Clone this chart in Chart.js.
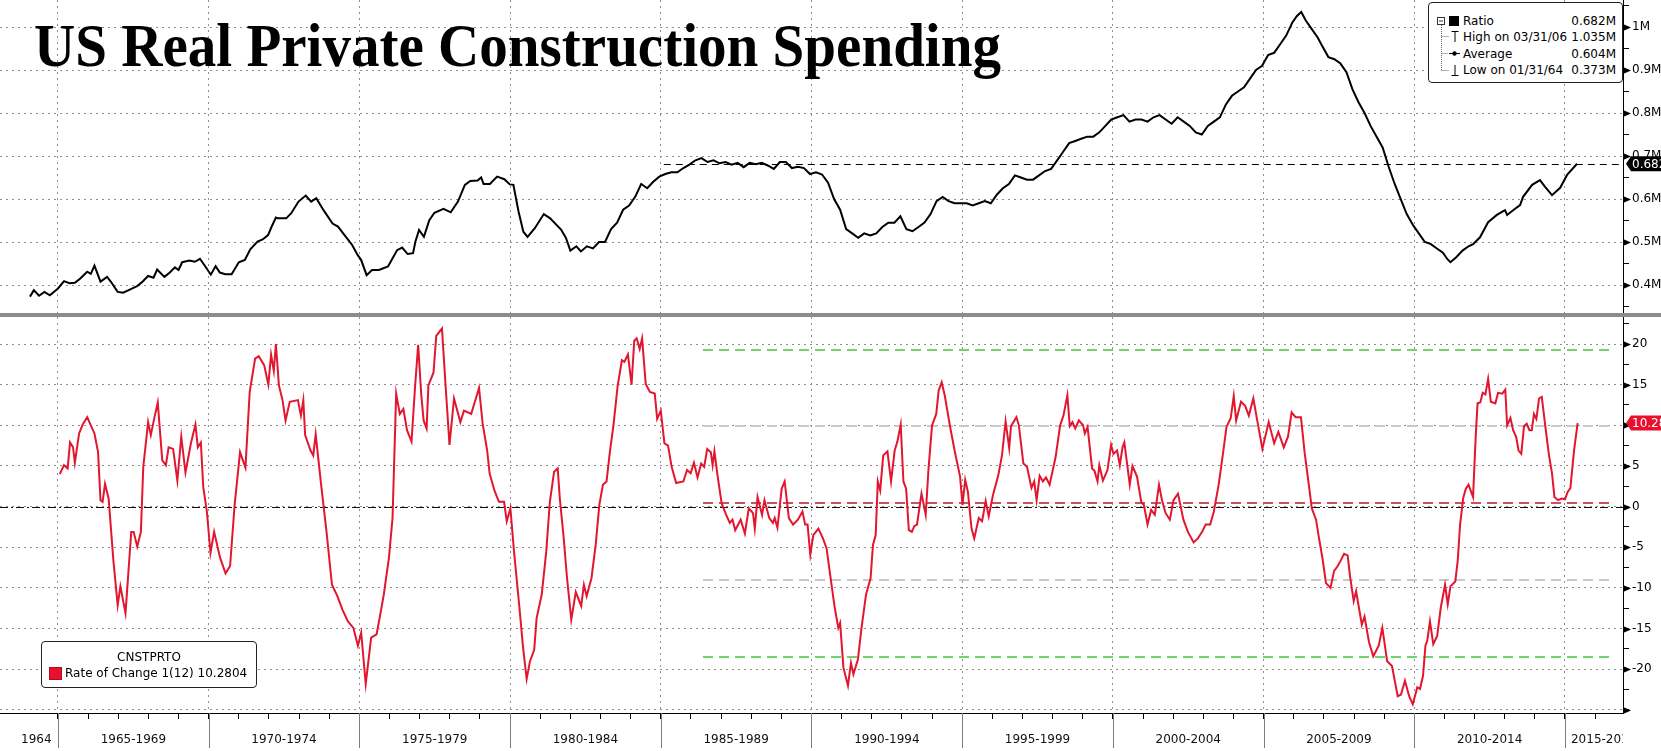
<!DOCTYPE html>
<html>
<head>
<meta charset="utf-8">
<script src="https://cdn.jsdelivr.net/npm/chart.js@4.4.1/dist/chart.umd.min.js"></script>
<style>
  html, body { margin: 0; padding: 0; background: #fff; }
  #wrap { position: relative; width: 1661px; height: 751px; overflow: hidden; background: #fff; }
  #c1 { position: absolute; left: 0; top: 0; }
  #c2 { position: absolute; left: 0; top: 317px; }
  #sep { position: absolute; left: 0; top: 313px; width: 1661px; height: 4px; background: #8c8c8c; }
  #title { position: absolute; left: 34px; top: 15px; font-family: "Liberation Serif", serif; font-weight: bold;
           font-size: 61px; line-height: 61px; white-space: nowrap; color: #000; transform-origin: 0 0; }
  .leg { position: absolute; background: #fff; border: 1px solid #222; border-radius: 4px;
         font-family: "DejaVu Sans", sans-serif; font-size: 12px; color: #000; }
  .leg .t { position: absolute; white-space: nowrap; line-height: 14px; }
  .leg .v { position: absolute; white-space: nowrap; line-height: 14px; right: 6px; text-align: right; }
</style>
</head>
<body>
<div id="wrap">
  <canvas id="c1" width="1661" height="313"></canvas>
  <div id="sep"></div>
  <canvas id="c2" width="1661" height="434"></canvas>
  <div id="title">US Real Private Construction Spending</div>

  <div class="leg" id="legTop" style="left:1428px; top:2px; width:193px; height:79px;">
    <svg width="193" height="79" style="position:absolute;left:0;top:0">
      <rect x="8.5" y="14.5" width="7" height="7" fill="#fff" stroke="#333"/>
      <line x1="10" y1="18" x2="14" y2="18" stroke="#333"/>
      <rect x="20" y="13" width="10" height="10" fill="#000"/>
      <path d="M12.5 22 V67.5" stroke="#666" stroke-dasharray="1,1" fill="none"/>
      <path d="M12.5 33.5 H20 M12.5 50.5 H19 M12.5 67.5 H20" stroke="#666" stroke-dasharray="1,1" fill="none"/>
      <path d="M22.5 28.5 H29.5 M26 28.5 V39" stroke="#000" fill="none"/>
      <path d="M20 50.5 H31" stroke="#000" fill="none"/>
      <circle cx="25.5" cy="50.5" r="2.2" fill="#000"/>
      <path d="M26 62 V72.5 M22.5 72.5 H29.5" stroke="#000" fill="none"/>
    </svg>
    <div class="t" style="left:34px; top:11px;">Ratio</div>
    <div class="v" style="top:11px;">0.682M</div>
    <div class="t" style="left:34px; top:27px;">High on 03/31/06</div>
    <div class="v" style="top:27px;">1.035M</div>
    <div class="t" style="left:34px; top:44px;">Average</div>
    <div class="v" style="top:44px;">0.604M</div>
    <div class="t" style="left:34px; top:60px;">Low on 01/31/64</div>
    <div class="v" style="top:60px;">0.373M</div>
  </div>

  <div class="leg" id="legBot" style="left:41px; top:641px; width:214px; height:45px;">
    <div class="t" style="left:0; width:214px; text-align:center; top:8px;">CNSTPRTO</div>
    <div style="position:absolute; left:7px; top:25px; width:11px; height:11px; background:#e8102c; border:1px solid #b00a20;"></div>
    <div class="t" style="left:23px; top:24px;">Rate of Change 1(12) 10.2804</div>
  </div>
</div>

<script>
// ---------------- DATA ----------------
// US real private construction spending (millions, shown as "M"), by decimal year
const spendDates = [
  1964.07,1964.2,1964.37,1964.55,1964.73,1965.0,1965.2,1965.38,1965.56,1965.74,1965.97,1966.09,1966.21,1966.41,1966.63,1966.75,1966.98,
  1967.16,1967.4,1967.64,1967.81,1967.99,1968.17,1968.29,1968.53,1968.71,1968.88,1969.0,1969.12,1969.36,1969.54,1969.71,1969.89,
  1970.07,1970.23,1970.37,1970.55,1970.76,1971.0,1971.2,1971.38,1971.62,1971.79,1971.97,1972.09,1972.23,1972.3,1972.57,1972.74,1972.98,
  1973.22,1973.4,1973.57,1973.81,1974.11,1974.29,1974.52,1974.76,1974.94,1975.06,1975.24,1975.42,1975.65,1975.95,1976.25,1976.42,1976.6,
  1976.78,1976.86,1976.98,1977.14,1977.32,1977.49,1977.79,1978.03,1978.27,1978.5,1978.68,1978.92,1979.04,1979.12,1979.33,1979.57,1979.81,
  1979.99,1980.11,1980.28,1980.44,1980.58,1980.82,1981.12,1981.33,1981.69,1981.85,1982.0,1982.2,1982.35,1982.55,1982.75,1982.95,
  1983.15,1983.35,1983.55,1983.75,1983.95,1984.15,1984.35,1984.55,1984.75,1984.95,1985.15,1985.35,1985.55,1985.75,1985.95,
  1986.15,1986.35,1986.55,1986.75,1986.95,1987.15,1987.35,1987.55,1987.75,1987.95,1988.15,1988.35,1988.55,1988.75,1988.95,
  1989.15,1989.35,1989.55,1989.75,1989.95,1990.15,1990.35,1990.55,1990.75,1990.95,1991.15,1991.35,1991.55,1991.75,1991.95,
  1992.15,1992.35,1992.55,1992.75,1992.95,1993.15,1993.35,1993.55,1993.75,1993.95,1994.15,1994.35,1994.55,1994.75,1994.95,
  1995.15,1995.35,1995.55,1995.75,1995.95,1996.15,1996.35,1996.55,1996.75,1996.95,1997.15,1997.35,1997.55,1997.75,1997.95,
  1998.15,1998.35,1998.55,1998.75,1998.95,1999.15,1999.35,1999.55,1999.75,1999.95,2000.15,2000.35,2000.55,2000.75,2000.95,
  2001.15,2001.35,2001.55,2001.75,2001.95,2002.15,2002.35,2002.55,2002.75,2002.95,2003.15,2003.35,2003.55,2003.75,2003.95,
  2004.15,2004.35,2004.55,2004.75,2004.95,2005.15,2005.35,2005.55,2005.75,2005.95,2006.1,2006.25,2006.4,2006.6,2006.8,2006.95,
  2007.15,2007.35,2007.55,2007.75,2007.95,2008.15,2008.35,2008.55,2008.75,2008.95,2009.15,2009.35,2009.55,2009.75,2009.95,
  2010.15,2010.35,2010.55,2010.75,2010.95,2011.1,2011.2,2011.4,2011.6,2011.8,2011.95,2012.18,2012.45,2012.74,2013.01,2013.08,
  2013.3,2013.51,2013.61,2013.91,2014.17,2014.34,2014.57,2014.84,2015.07,2015.4
];
const spendValues = [
  0.373,0.388,0.375,0.384,0.376,0.392,0.409,0.404,0.405,0.415,0.431,0.426,0.445,0.408,0.419,0.408,0.384,
  0.382,0.390,0.398,0.408,0.421,0.417,0.436,0.419,0.429,0.441,0.435,0.453,0.457,0.454,0.461,0.443,
  0.424,0.444,0.429,0.425,0.425,0.453,0.458,0.483,0.501,0.506,0.516,0.536,0.557,0.555,0.555,0.567,0.594,
  0.608,0.594,0.602,0.574,0.543,0.536,0.515,0.493,0.470,0.458,0.423,0.435,0.435,0.443,0.481,0.487,0.472,
  0.474,0.501,0.528,0.512,0.551,0.568,0.577,0.569,0.594,0.633,0.642,0.643,0.650,0.635,0.635,0.652,0.646,
  0.634,0.633,0.571,0.524,0.512,0.532,0.565,0.555,0.529,0.510,0.480,0.490,0.478,0.490,0.485,0.500,
  0.500,0.530,0.545,0.575,0.585,0.605,0.635,0.625,0.640,0.652,0.658,0.662,0.662,0.672,0.680,
  0.690,0.695,0.686,0.690,0.683,0.686,0.680,0.684,0.674,0.684,0.681,0.684,0.678,0.670,0.686,
  0.686,0.672,0.675,0.672,0.658,0.662,0.657,0.638,0.600,0.575,0.530,0.520,0.510,0.520,0.515,
  0.520,0.535,0.545,0.545,0.560,0.530,0.525,0.535,0.545,0.565,0.595,0.605,0.595,0.590,0.590,
  0.590,0.585,0.590,0.595,0.590,0.610,0.625,0.635,0.655,0.650,0.645,0.645,0.655,0.665,0.670,
  0.690,0.710,0.730,0.735,0.740,0.745,0.745,0.755,0.770,0.785,0.790,0.795,0.780,0.785,0.785,
  0.780,0.790,0.795,0.785,0.775,0.790,0.780,0.770,0.755,0.750,0.770,0.780,0.790,0.820,0.840,
  0.850,0.860,0.880,0.900,0.910,0.935,0.940,0.960,0.980,1.010,1.025,1.035,1.015,0.995,0.975,0.955,
  0.930,0.925,0.915,0.895,0.855,0.825,0.800,0.770,0.745,0.720,0.675,0.635,0.600,0.565,0.540,
  0.520,0.500,0.495,0.485,0.475,0.460,0.453,0.465,0.480,0.490,0.495,0.511,0.546,0.563,0.574,0.563,
  0.575,0.586,0.605,0.633,0.644,0.628,0.609,0.626,0.656,0.682
];

// Rate of change, 12 months (%)
const rocDates = [
  1965.06,1965.2,1965.32,1965.4,1965.5,1965.56,1965.7,1965.82,1965.97,1966.09,1966.21,1966.33,1966.41,1966.48,1966.56,1966.68,1966.84,1966.98,
  1967.07,1967.24,1967.43,1967.51,1967.63,1967.75,1967.83,1967.99,1968.08,1968.19,1968.31,1968.46,1968.58,1968.67,1968.82,1968.96,
  1969.09,1969.23,1969.41,1969.56,1969.64,1969.74,1969.82,1969.94,1970.06,1970.18,1970.38,1970.56,1970.71,1970.86,1971.04,1971.22,
  1971.36,1971.54,1971.66,1971.84,1971.98,1972.07,1972.16,1972.23,1972.33,1972.45,1972.55,1972.69,1972.96,1973.06,1973.14,1973.2,
  1973.38,1973.47,1973.55,1973.73,1973.91,1974.09,1974.27,1974.44,1974.62,1974.8,1974.95,1975.06,1975.21,1975.39,1975.57,1975.69,
  1975.81,1975.98,1976.1,1976.22,1976.34,1976.46,1976.58,1976.73,1976.85,1976.95,1977.05,1977.13,1977.23,1977.29,1977.46,1977.55,
  1977.74,1977.86,1977.99,1978.14,1978.35,1978.47,1978.71,1978.97,1979.09,1979.24,1979.32,1979.48,1979.63,1979.8,1979.89,1980.01,
  1980.13,1980.31,1980.43,1980.55,1980.66,1980.8,1980.88,1981.05,1981.2,1981.32,1981.46,1981.58,1981.65,
  1981.77,1981.89,1982.03,1982.18,1982.36,1982.45,1982.54,1982.7,1982.84,1982.96,1983.08,1983.2,1983.31,1983.43,1983.57,1983.71,
  1983.79,1983.91,1984.03,1984.12,1984.2,1984.3,1984.38,1984.5,1984.64,1984.8,1984.88,1985.0,1985.12,1985.24,1985.36,1985.51,
  1985.75,1985.87,1985.99,1986.1,1986.22,1986.34,1986.44,1986.54,1986.66,1986.72,1986.78,1986.88,1987.02,1987.17,1987.29,1987.38,
  1987.47,1987.65,1987.79,1987.92,1988.06,1988.12,1988.21,1988.36,1988.44,1988.6,1988.72,1988.78,1988.87,1989.01,1989.11,1989.25,
  1989.39,1989.55,1989.7,1989.79,1989.87,1989.96,1990.06,1990.23,1990.38,1990.5,1990.62,1990.77,1990.89,1990.95,1991.06,1991.21,
  1991.31,1991.39,1991.54,1991.66,1991.81,1991.96,1992.04,1992.13,1992.2,1992.28,1992.38,1992.52,1992.64,1992.76,1992.85,1992.96,
  1993.05,1993.14,1993.23,1993.33,1993.41,1993.5,1993.65,1993.79,1993.88,1994.0,1994.14,1994.22,1994.32,1994.42,1994.6,1994.77,
  1994.93,1995.01,1995.1,1995.19,1995.31,1995.4,1995.55,1995.66,1995.78,1995.88,1996.02,1996.2,1996.32,1996.44,1996.56,1996.62,
  1996.8,1996.88,1997.03,1997.15,1997.3,1997.39,1997.47,1997.57,1997.68,1997.78,1997.9,1998.1,1998.25,1998.36,1998.49,1998.57,
  1998.66,1998.75,1998.87,1999.01,1999.07,1999.16,1999.31,1999.39,1999.49,
  1999.55,1999.67,1999.82,1999.94,2000.02,2000.14,2000.23,2000.32,2000.38,2000.56,2000.65,2000.8,2000.94,2001.03,2001.15,2001.27,
  2001.39,2001.53,2001.63,2001.75,2001.89,2002.01,2002.16,2002.34,2002.49,2002.68,2002.82,2002.96,2003.08,2003.23,2003.35,2003.51,
  2003.63,2003.77,2003.91,2004.01,2004.09,2004.25,2004.39,2004.51,2004.66,2004.78,2004.96,2005.17,2005.35,2005.49,2005.67,2005.81,
  2005.93,2006.06,2006.24,2006.36,2006.5,2006.6,2006.74,2006.84,2006.96,2007.07,2007.22,2007.34,2007.46,2007.55,2007.67,2007.79,
  2007.87,2007.99,2008.07,2008.26,2008.35,2008.5,2008.64,2008.82,2008.94,2009.1,2009.26,2009.45,2009.56,2009.69,2009.83,2009.95,
  2010.1,2010.19,2010.29,2010.37,2010.43,2010.52,2010.63,2010.76,2010.88,2011.02,2011.11,2011.2,2011.36,2011.44,2011.52,2011.62,
  2011.71,2011.8,2011.95,2012.04,2012.1,2012.19,2012.27,2012.36,2012.45,2012.54,2012.69,2012.78,2012.92,2013.02,2013.08,2013.19,
  2013.28,2013.38,2013.46,2013.55,2013.64,2013.73,2013.82,2013.9,2013.97,2014.05,2014.14,2014.23,2014.35,2014.47,2014.57,2014.65,
  2014.77,2014.89,2015.0,2015.09,2015.18,2015.3,2015.42
];
const rocValues = [
  4.0,5.1,4.7,7.9,7.3,5.4,9.0,10.1,11.0,10.0,9.0,6.7,0.8,0.6,2.8,1.0,-6.7,-12.1,
  -9.8,-13.1,-3.1,-3.1,-4.9,-3.1,4.9,10.4,8.8,10.8,12.8,5.7,5.1,7.3,7.1,3.2,
  8.6,4.2,7.8,10.1,7.3,7.9,2.4,-0.6,-5.7,-3.1,-6.3,-8.2,-7.3,0.2,6.7,4.8,
  14.1,18.2,18.5,17.4,15.0,18.7,16.7,20.0,14.9,13.1,10.6,12.9,13.1,11.2,13.1,8.8,
  6.9,6.3,8.9,2.7,-3.1,-9.6,-11.0,-12.7,-14.1,-14.9,-17.1,-15.5,-21.8,-16.1,-15.7,-13.3,
  -10.8,-6.3,-1.4,13.9,11.4,12.0,9.4,8.0,14.9,19.9,13.9,10.6,9.6,14.9,16.5,21.0,
  21.9,14.9,7.6,13.3,10.4,11.8,11.4,14.6,10.2,6.9,4.1,2.0,0.6,0.6,-1.8,-0.2,
  -5.5,-12.4,-17.3,-21.2,-19.0,-17.6,-13.7,-10.8,-5.5,0.6,4.3,4.7,1.0,
  -3.5,-8.8,-13.9,-10.5,-12.2,-9.6,-11.0,-8.8,-4.7,0.2,2.7,3.1,6.7,10.0,14.9,18.0,
  17.8,18.7,15.0,20.4,20.7,19.4,20.7,15.1,14.1,13.9,10.8,11.8,7.8,7.5,4.9,2.9,
  3.1,4.5,4.1,5.4,3.6,5.3,4.9,7.1,6.7,5.1,6.8,3.9,0.4,-1.0,-2.0,-1.6,
  -2.9,-1.6,-3.3,-0.2,-0.8,-2.7,1.2,-1.0,0.8,-1.4,-2.0,-1.4,-2.6,2.2,3.1,-1.4,
  -2.2,-1.6,-0.6,-2.2,-2.2,-5.9,-3.5,-2.7,-3.9,-5.1,-8.4,-12.4,-14.9,-14.3,-19.8,-22.0,
  -19.2,-20.6,-18.8,-14.9,-10.8,-8.8,-4.7,-3.5,3.1,2.0,6.3,6.8,3.1,6.9,8.0,10.1,
  3.1,2.2,-2.9,-3.1,-2.4,-2.2,1.6,-1.0,4.5,10.0,11.4,14.3,15.3,13.7,9.8,6.5,
  3.7,0.2,3.3,1.8,-2.7,-3.9,-1.4,-1.8,0.7,-1.2,1.4,3.9,6.3,10.5,7.2,9.9,
  11.0,10.0,5.3,4.9,2.3,3.1,0.8,3.8,3.1,3.6,2.7,6.1,10.0,11.2,13.7,9.9,
  10.4,9.6,10.6,10.0,9.0,9.8,4.7,4.4,3.1,
  5.1,3.2,4.5,7.6,6.5,6.9,5.1,7.3,7.9,2.7,5.0,3.7,0.6,0.2,-2.2,-0.4,
  -1.0,2.7,0.8,-0.8,-1.6,0.8,1.6,-1.6,-3.1,-4.4,-3.9,-3.1,-2.2,-2.2,-0.6,2.7,
  5.9,9.8,10.9,13.6,10.6,12.9,12.4,11.2,13.3,10.8,7.1,10.4,7.8,9.2,7.3,8.6,
  11.6,11.0,11.0,6.7,2.7,-0.2,-1.6,-3.9,-6.5,-9.4,-10.0,-7.9,-7.3,-6.7,-5.8,-6.0,
  -8.6,-11.6,-10.4,-14.5,-13.5,-16.7,-18.4,-17.1,-14.9,-19.0,-19.6,-23.3,-23.1,-21.4,-23.3,-24.3,
  -22.2,-22.4,-20.8,-17.1,-16.5,-14.1,-16.9,-15.9,-12.4,-9.6,-12.0,-9.8,-9.2,-6.7,-2.2,1.0,
  2.2,2.7,1.2,8.8,12.7,12.8,14.0,13.8,15.7,12.9,12.7,14.0,13.9,14.4,10.0,10.9,
  9.4,8.6,6.9,6.5,9.9,10.2,9.4,9.4,11.4,10.8,13.3,13.5,9.8,6.3,4.1,1.2,
  0.8,1.0,0.9,1.8,2.3,6.9,10.28
];

// Reference levels drawn in the lower panel (mean and +/- 1, 2 std. dev.)
const bandLevels = [19.3, 9.9, 0.42, -9.05, -18.45];
const bandColors = ['#6fd46f', '#c9c9c9', '#c7535d', '#c9c9c9', '#6fd46f'];
const bandFrom = 1986.4, bandTo = 2016.55;
const lastRatio = 0.682;      // last value, upper panel
const lastRoc = 10.28;        // last value, lower panel
const ratioLineFrom = 1985.1;

// Axis ticks and labels
const topTicks = [0.35,0.40,0.45,0.50,0.55,0.60,0.65,0.70,0.75,0.80,0.85,0.90,0.95,1.00,1.05];
const topTickLabels = {"0.4":"0.4M","0.5":"0.5M","0.6":"0.6M","0.7":"0.7M","0.8":"0.8M","0.9":"0.9M","1.0":"1M"};
const rocTicks = [-25,-22.5,-20,-17.5,-15,-12.5,-10,-7.5,-5,-2.5,0,2.5,5,7.5,10,12.5,15,17.5,20,22.5];
const rocTickLabels = {"-20":"-20","-15":"-15","-10":"-10","-5":"-5","0":"0","5":"5","10":"10","15":"15","20":"20"};
const periodLabels  = ['1964','1965-1969','1970-1974','1975-1979','1980-1984','1985-1989','1990-1994','1995-1999','2000-2004','2005-2009','2010-2014','2015-2019'];
const periodCenters = [1964.28,1967.5,1972.5,1977.5,1982.5,1987.5,1992.5,1997.5,2002.5,2007.5,2012.5,null];
const periodBounds  = [1965,1970,1975,1980,1985,1990,1995,2000,2005,2010,2015];

// ---------------- LAYOUT ----------------
const X_MIN = 1963.076, X_MAX = 2016.925;
const FONT = '"DejaVu Sans", sans-serif';
const yearTicks = [];
for (let yr = 1965; yr <= 2016; yr++) yearTicks.push(yr);

function keyOf(v) { return (Math.round(v * 10) / 10).toFixed(1); }
function rocKey(v) { return String(Math.round(v * 10) / 10); }
function isTopMajor(v) { return Math.abs(v * 10 - Math.round(v * 10)) < 1e-6; }
function isRocMajor(v) { return Math.abs(v / 5 - Math.round(v / 5)) < 1e-6; }
function noPadY(s, w) { s.width = w; s.paddingTop = 0; s.paddingBottom = 0; }
function noPadX(s, h) { s.height = h; s.paddingLeft = 0; s.paddingRight = 0; }

function arrow(ctx, x, y) {
  ctx.beginPath();
  ctx.moveTo(x, y - 3.5);
  ctx.lineTo(x + 8, y);
  ctx.lineTo(x, y + 3.5);
  ctx.closePath();
  ctx.fill();
}
function valueBox(ctx, ax, py, text, bg) {
  const h = 15, tip = ax + 3, bx = ax + 8;
  ctx.save();
  ctx.fillStyle = bg;
  ctx.beginPath();
  ctx.moveTo(tip, py);
  ctx.lineTo(bx, py - h / 2);
  ctx.lineTo(ax + 80, py - h / 2);
  ctx.lineTo(ax + 80, py + h / 2);
  ctx.lineTo(bx, py + h / 2);
  ctx.closePath();
  ctx.fill();
  ctx.fillStyle = '#fff';
  ctx.font = '12px ' + FONT;
  ctx.textAlign = 'left';
  ctx.textBaseline = 'middle';
  ctx.fillText(text, bx + 1, py + 1);
  ctx.restore();
}

const topDecor = {
  id: 'topDecor',
  beforeDatasetsDraw(chart) {
    const { ctx, chartArea: a, scales: { x, y } } = chart;
    ctx.save();
    ctx.strokeStyle = '#000';
    ctx.lineWidth = 1;
    ctx.setLineDash([7, 5]);
    const py = Math.round(y.getPixelForValue(lastRatio)) + 0.5;
    ctx.beginPath();
    ctx.moveTo(x.getPixelForValue(ratioLineFrom), py);
    ctx.lineTo(a.right, py);
    ctx.stroke();
    ctx.restore();
  },
  afterDraw(chart) {
    const { ctx, chartArea: a, scales: { y } } = chart;
    ctx.save();
    ctx.fillStyle = '#000';
    y.ticks.forEach(t => { if (isTopMajor(t.value)) arrow(ctx, a.right, Math.round(y.getPixelForValue(t.value)) + 0.5); });
    ctx.restore();
    valueBox(ctx, a.right, y.getPixelForValue(lastRatio), lastRatio.toFixed(3), '#000');
  }
};

const botDecor = {
  id: 'botDecor',
  beforeDatasetsDraw(chart) {
    const { ctx, chartArea: a, scales: { x, y } } = chart;
    ctx.save();
    const z = Math.round(y.getPixelForValue(0)) + 0.5;
    ctx.strokeStyle = '#111';
    ctx.lineWidth = 1;
    ctx.setLineDash([8, 3, 2, 3]);
    ctx.beginPath(); ctx.moveTo(a.left, z); ctx.lineTo(a.right, z); ctx.stroke();
    ctx.lineWidth = 2;
    ctx.setLineDash([10, 6]);
    bandLevels.forEach((v, i) => {
      const py = Math.round(y.getPixelForValue(v));
      ctx.strokeStyle = bandColors[i];
      ctx.beginPath();
      ctx.moveTo(x.getPixelForValue(bandFrom), py);
      ctx.lineTo(x.getPixelForValue(bandTo), py);
      ctx.stroke();
    });
    ctx.restore();
  },
  afterDraw(chart) {
    const { ctx, chartArea: a, scales: { x, y } } = chart;
    ctx.save();
    ctx.fillStyle = '#000';
    y.ticks.forEach(t => { if (isRocMajor(t.value)) arrow(ctx, a.right, Math.round(y.getPixelForValue(t.value)) + 0.5); });
    ctx.strokeStyle = '#7d7d7d';
    ctx.lineWidth = 1;
    periodBounds.forEach(b => {
      const px = Math.round(x.getPixelForValue(b)) + 0.5;
      ctx.beginPath(); ctx.moveTo(px, a.bottom); ctx.lineTo(px, a.bottom + 35); ctx.stroke();
    });
    ctx.beginPath(); ctx.rect(0, a.bottom, a.right, 60); ctx.clip();
    ctx.fillStyle = '#111';
    ctx.font = '12px ' + FONT;
    ctx.textAlign = 'center';
    ctx.textBaseline = 'middle';
    periodLabels.forEach((lab, i) => {
      let cx;
      if (periodCenters[i] === null) {
        const w = ctx.measureText(lab).width;
        cx = x.getPixelForValue(periodBounds[periodBounds.length - 1]) + 6 + w / 2;
      } else {
        cx = x.getPixelForValue(periodCenters[i]);
      }
      ctx.fillText(lab, cx, a.bottom + 27);
    });
    ctx.restore();
    valueBox(ctx, a.right, y.getPixelForValue(lastRoc), lastRoc.toFixed(2), '#e8102c');
  }
};

const gridGrey = '#8f8f8f';

new Chart(document.getElementById('c1'), {
  type: 'line',
  data: {
    datasets: [{
      data: spendDates.map((d, i) => ({ x: d, y: spendValues[i] })),
      borderColor: '#000', borderWidth: 2, pointRadius: 0, tension: 0, fill: false
    }]
  },
  options: {
    responsive: false, animation: false, events: [],
    layout: { padding: 0, autoPadding: false },
    plugins: { legend: { display: false }, tooltip: { enabled: false } },
    scales: {
      x: {
        type: 'linear', min: X_MIN, max: X_MAX, bounds: 'data',
        afterBuildTicks: s => { s.ticks = periodBounds.map(v => ({ value: v })); },
        afterFit: s => noPadX(s, 0),
        ticks: { display: false },
        grid: { color: gridGrey, lineWidth: 1, drawTicks: false },
        border: { display: false, dash: [2, 4] }
      },
      y: {
        type: 'linear', position: 'right', min: 0.3349, max: 1.0628, bounds: 'data',
        afterBuildTicks: s => { s.ticks = topTicks.map(v => ({ value: v })); },
        afterFit: s => noPadY(s, 38),
        ticks: {
          autoSkip: false, padding: 3, color: '#000', font: { family: FONT, size: 12 },
          callback: v => isTopMajor(v) ? (topTickLabels[keyOf(v)] || '') : ''
        },
        grid: {
          color: c => (c.tick && isTopMajor(c.tick.value)) ? gridGrey : 'rgba(0,0,0,0)',
          tickColor: '#000', tickLength: 6, drawTicks: true, lineWidth: 1
        },
        border: { display: true, color: '#000', width: 1, dash: [2, 4] }
      }
    }
  },
  plugins: [topDecor]
});

new Chart(document.getElementById('c2'), {
  type: 'line',
  data: {
    datasets: [{
      data: rocDates.map((d, i) => ({ x: d, y: rocValues[i] })),
      borderColor: '#e3162f', borderWidth: 2, pointRadius: 0, tension: 0, fill: false
    }]
  },
  options: {
    responsive: false, animation: false, events: [],
    layout: { padding: 0, autoPadding: false },
    plugins: { legend: { display: false }, tooltip: { enabled: false } },
    scales: {
      x: {
        type: 'linear', min: X_MIN, max: X_MAX, bounds: 'data',
        afterBuildTicks: s => { s.ticks = yearTicks.map(v => ({ value: v })); },
        afterFit: s => noPadX(s, 38),
        ticks: { display: false },
        grid: {
          color: c => (c.tick && c.tick.value % 5 === 0) ? gridGrey : 'rgba(0,0,0,0)',
          tickColor: '#000', tickLength: 6, drawTicks: true, lineWidth: 1
        },
        border: { display: true, color: '#000', width: 1, dash: [2, 4] }
      },
      y: {
        type: 'linear', position: 'right', min: -25.37, max: 23.32, bounds: 'data',
        afterBuildTicks: s => { s.ticks = rocTicks.map(v => ({ value: v })); },
        afterFit: s => noPadY(s, 38),
        ticks: {
          autoSkip: false, padding: 3, color: '#000', font: { family: FONT, size: 12 },
          callback: v => isRocMajor(v) ? (rocTickLabels[rocKey(v)] || '') : ''
        },
        grid: {
          color: c => (c.tick && isRocMajor(c.tick.value)) ? gridGrey : 'rgba(0,0,0,0)',
          tickColor: '#000', tickLength: 6, drawTicks: true, lineWidth: 1
        },
        border: { display: true, color: '#000', width: 1, dash: [2, 4] }
      }
    }
  },
  plugins: [botDecor]
});

(function () {
  const el = document.getElementById('title');
  const fit = () => {
    el.style.transform = 'none';
    const w = el.getBoundingClientRect().width;
    if (w > 0) el.style.transform = 'scaleX(' + (967 / w) + ')';
  };
  fit();
  if (document.fonts && document.fonts.ready) document.fonts.ready.then(fit);
})();
</script>
</body>
</html>
